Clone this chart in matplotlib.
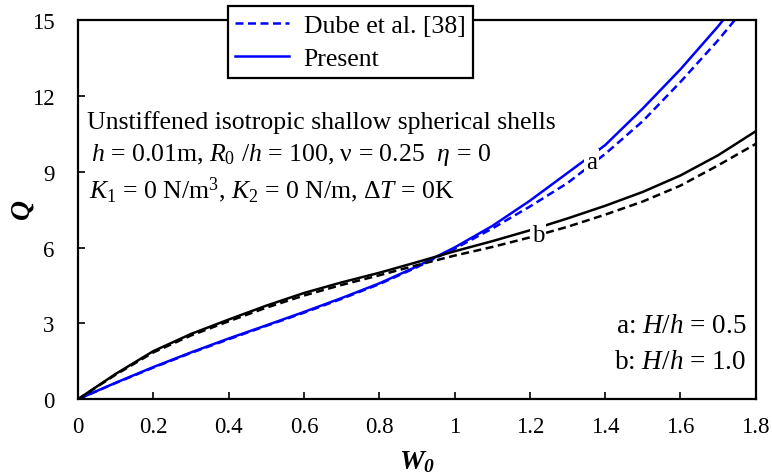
import numpy as np
import matplotlib
matplotlib.use("Agg")
import matplotlib.pyplot as plt

plt.rcParams['font.family'] = ['Liberation Serif', 'DejaVu Serif']
plt.rcParams['mathtext.fontset'] = 'custom'
plt.rcParams['mathtext.rm'] = 'Liberation Serif'
plt.rcParams['mathtext.it'] = 'Liberation Serif:italic'
plt.rcParams['mathtext.bf'] = 'Liberation Serif:italic:bold'

# data
W0 = [0, 0.1, 0.2, 0.3, 0.4, 0.5, 0.6, 0.7, 0.8, 0.9,
      1.0, 1.1, 1.2, 1.3, 1.4, 1.5, 1.6, 1.7, 1.8]

# a: H/h = 0.5
a_present = [0, 0.65, 1.27, 1.85, 2.4, 2.92, 3.45, 4.0, 4.58, 5.25,
             6.0, 6.85, 7.85, 8.95, 10.05, 11.5, 13.05, 14.75, 16.6]
a_dube = [0, 0.64, 1.25, 1.83, 2.37, 2.9, 3.42, 3.97, 4.55, 5.22,
          5.95, 6.75, 7.62, 8.55, 9.7, 11.0, 12.55, 14.2, 16.0]

# b: H/h = 1.0
b_present = [0, 1.0, 1.9, 2.58, 3.15, 3.7, 4.2, 4.62, 5.0, 5.42,
             5.85, 6.25, 6.68, 7.15, 7.65, 8.2, 8.85, 9.65, 10.6]
b_dube = [0, 0.97, 1.85, 2.52, 3.08, 3.62, 4.1, 4.52, 4.9, 5.3,
          5.68, 6.02, 6.4, 6.82, 7.3, 7.82, 8.45, 9.25, 10.1]

xticks = [0, 0.2, 0.4, 0.6, 0.8, 1, 1.2, 1.4, 1.6, 1.8]
xticklabels = ['0', '0.2', '0.4', '0.6', '0.8', '1', '1.2', '1.4', '1.6', '1.8']
yticks = [0, 3, 6, 9, 12, 15]

fig = plt.figure(figsize=(7.72, 4.77), dpi=100)
ax = fig.add_axes([0.101, 0.161, 0.878, 0.795])

dash = (3.2, 1.8)
lw = 1.8
ax.plot(W0, a_dube, color='blue', lw=lw, dashes=dash, label='Dube et al. [38]')
ax.plot(W0, a_present, color='blue', lw=lw, label='Present')
ax.plot(W0, b_dube, color='black', lw=lw, dashes=dash)
ax.plot(W0, b_present, color='black', lw=lw)

# curve labels breaking the lines
ax.text(1.364, 9.38, 'a', fontsize=18, ha='center', va='center',
        bbox=dict(facecolor='white', edgecolor='none', pad=1.5))
ax.text(1.222, 6.5, 'b', fontsize=18, ha='center', va='center',
        bbox=dict(facecolor='white', edgecolor='none', pad=1.5))

ax.set_xlim(0, 1.8)
ax.set_ylim(0, 15)
ax.set_xticks(xticks)
ax.set_xticklabels(xticklabels)
ax.set_yticks(yticks)
ax.tick_params(direction='in', length=5, width=1.2, labelsize=16.5)
ax.tick_params(axis='x', pad=12)
ax.tick_params(axis='y', pad=17)
for s in ax.spines.values():
    s.set_linewidth(1.6)

ax.set_xlabel(r'$\mathbf{W_0}$', fontsize=20, labelpad=8)
ax.set_ylabel(r'$\mathbf{Q}$', fontsize=20)
ax.yaxis.set_label_coords(-0.062, 0.5)

fs = 18.5
ax.text(0.025, 11.0, 'Unstiffened isotropic shallow spherical shells', fontsize=fs,
        va='center')
ax.text(0.035, 9.7, r'$h$ = 0.01m, $R_0$ /$h$ = 100, ν = 0.25  $\eta$ = 0', fontsize=fs,
        va='center')
ax.text(0.03, 8.3, r'$K_1$ = 0 N/m$^3$, $K_2$ = 0 N/m, $\Delta T$ = 0K', fontsize=fs,
        va='center')

ax.text(1.775, 2.9, r'a: $H/h$ = 0.5', fontsize=19.5, ha='right', va='center')
ax.text(1.775, 1.5, r'b: $H/h$ = 1.0', fontsize=19.5, ha='right', va='center')

leg = fig.legend(loc='upper left', bbox_to_anchor=(0.295, 0.985), fontsize=fs,
                 frameon=True, fancybox=False, handlelength=2.1,
                 borderpad=0.3, labelspacing=0.4, handletextpad=0.55,
                 borderaxespad=0)
leg.get_frame().set_edgecolor('black')
leg.get_frame().set_linewidth(1.6)
leg.get_frame().set_alpha(1)

fig.savefig('out.png', dpi=100)
